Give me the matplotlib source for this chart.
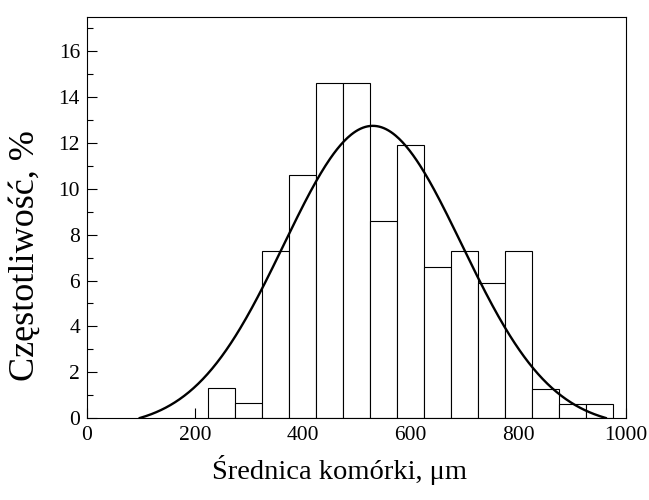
import numpy as np
import matplotlib
matplotlib.use("Agg")
import matplotlib.pyplot as plt
from matplotlib.ticker import MultipleLocator

plt.rcParams['font.family'] = ['Liberation Serif', 'DejaVu Serif']

# Histogram bins (cell diameter, µm) and frequencies (%)
bin_left = [225, 275, 325, 375, 425, 475, 525, 575, 625, 675, 725, 775, 825, 875, 925]
bin_width = 50
freq = [1.3, 0.65, 7.3, 10.6, 14.6, 14.6, 8.6, 11.9, 6.6, 7.3, 5.9, 7.3, 1.25, 0.6, 0.6]

# Fitted distribution curve parameters (bell curve reaching zero at its ends)
fit_mean = 530.0
fit_sigma = 165.0
fit_peak = 12.75
fit_range = (98, 962)

fig = plt.figure(figsize=(6.49, 5.00), dpi=100)
ax = fig.add_axes([0.134, 0.164, 0.831, 0.802])

ax.bar(bin_left, freq, width=bin_width, align='edge', facecolor='white',
       edgecolor='black', linewidth=0.8, zorder=2)

xs = np.linspace(fit_range[0], fit_range[1], 400)
g = np.exp(-0.5 * ((xs - fit_mean) / fit_sigma) ** 2)
g0 = np.exp(-0.5 * ((fit_range[0] - fit_mean) / fit_sigma) ** 2)
ys = fit_peak * (g - g0) / (1 - g0)
ax.plot(xs, ys, color='black', linewidth=1.7, zorder=3)

ax.set_xlim(0, 1000)
ax.set_ylim(0, 17.5)
ax.xaxis.set_major_locator(MultipleLocator(200))
ax.yaxis.set_major_locator(MultipleLocator(2))
ax.yaxis.set_minor_locator(MultipleLocator(1))
ax.tick_params(axis='both', which='major', direction='in', length=7, width=0.8,
               labelsize=15.5, pad=6)
ax.tick_params(axis='y', which='major', pad=5)
ax.tick_params(axis='both', which='minor', direction='in', length=4, width=0.8)
ax.tick_params(top=False, right=False, which='both')
for s in ax.spines.values():
    s.set_linewidth(0.8)

ax.set_xlabel('Średnica komórki, μm', fontsize=20.5)
ax.set_ylabel('Częstotliwość, %', fontsize=26)
ax.xaxis.set_label_coords(0.4675, -0.092)
ax.yaxis.set_label_coords(-0.083, 0.404)

fig.savefig('out.png', dpi=100)
